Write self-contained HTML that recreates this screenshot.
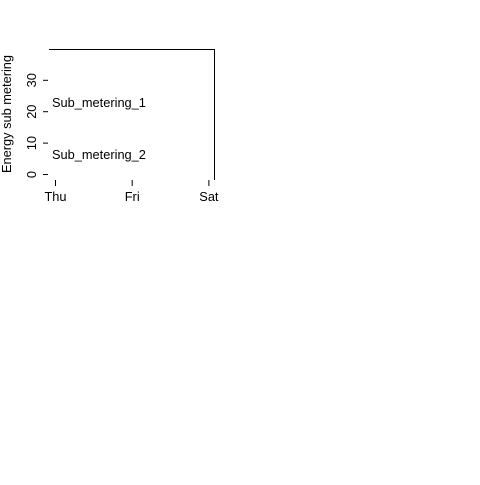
<!DOCTYPE html>
<html><head><meta charset="utf-8"><style>
body{margin:0;background:#fff}
svg text{font-family:"Liberation Sans",Arial,sans-serif;font-size:12.8px;fill:#000}
</style></head><body>
<svg width="480" height="480">
<g id="chart" stroke="#000" stroke-width="1" fill="none">
<path d="M49,49.5H214.5V180"/>
</g>
<text x="52" y="107">Sub_metering_1</text>
<text x="52" y="159">Sub_metering_2</text>
<text transform="translate(11,114) rotate(-90)" text-anchor="middle">Energy sub metering</text>
</svg>
<script>
const yTicks=[0,10,20,30];
const xLabels=["Thu","Fri","Sat"];
const xIdx=[0,1,2];
const svg=document.querySelector('svg');
const NS="http://www.w3.org/2000/svg";
function yScale(v){return 174.5-v*3.14;}
function xScale(i){return 55.5+i*76.7;}
yTicks.forEach(v=>{
  const l=document.createElementNS(NS,'line');
  
  
  l.setAttribute('x1',43);l.setAttribute('x2',48);
  l.setAttribute('y1',yScale(v));l.setAttribute('y2',yScale(v));
  l.setAttribute('stroke','#000');
  svg.appendChild(l);
  const t=document.createElementNS(NS,'text');
  
  
  t.setAttribute('text-anchor','middle');
  t.setAttribute('transform','translate(36,'+yScale(v)+') rotate(-90)');
  t.textContent=v;
  svg.appendChild(t);
});
xIdx.forEach((i,k)=>{
  const l=document.createElementNS(NS,'line');
  
  
  l.setAttribute('x1',xScale(i));l.setAttribute('x2',xScale(i));
  l.setAttribute('y1',180);l.setAttribute('y2',186);
  l.setAttribute('stroke','#000');
  svg.appendChild(l);
  const t=document.createElementNS(NS,'text');
  
  
  t.setAttribute('text-anchor','middle');
  t.setAttribute('x',xScale(i));t.setAttribute('y',201);
  t.textContent=xLabels[k];
  svg.appendChild(t);
});
</script>
</body></html>
